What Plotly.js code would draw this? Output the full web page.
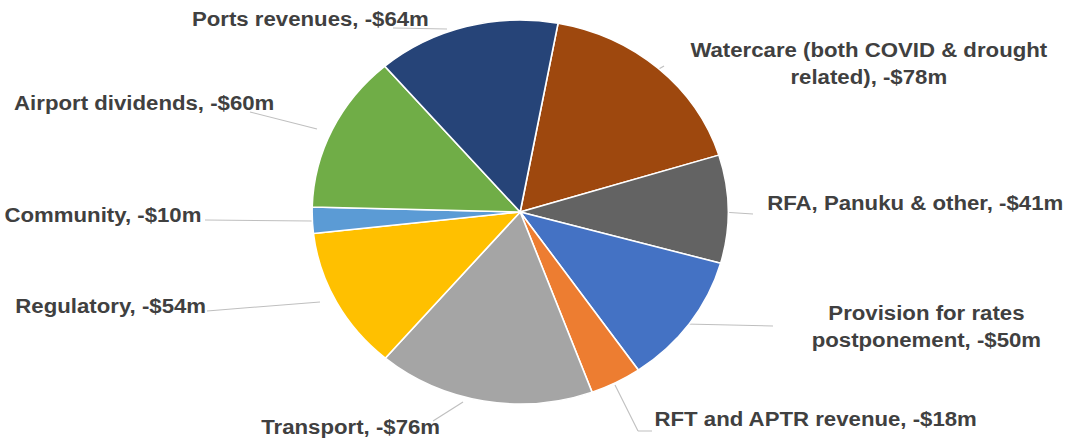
<!DOCTYPE html>
<html>
<head>
<meta charset="utf-8">
<script src="https://cdn.plot.ly/plotly-3.0.1.min.js"></script>
<style>
  html, body { margin: 0; padding: 0; background: #ffffff; overflow: hidden; }
  #chart { width: 1005px; height: 441px; transform: scaleX(1.0836); transform-origin: 0 0; }
</style>
</head>
<body>
<div id="chart"></div>
<script>
// Data (clockwise from 12 o'clock)
var categories = [
  "Watercare (both COVID & drought related)",
  "RFA, Panuku & other",
  "Provision for rates postponement",
  "RFT and APTR revenue",
  "Transport",
  "Regulatory",
  "Community",
  "Airport dividends",
  "Ports revenues"
];
var values = [78, 41, 50, 18, 76, 54, 10, 60, 64];
var labelTexts = [
  "Watercare (both COVID & drought<br>related), -$78m",
  "RFA, Panuku & other, -$41m",
  "Provision for rates<br>postponement, -$50m",
  "RFT and APTR revenue, -$18m",
  "Transport, -$76m",
  "Regulatory, -$54m",
  "Community, -$10m",
  "Airport dividends, -$60m",
  "Ports revenues, -$64m"
];
var colors = ["#9E480E", "#636363", "#4472C4", "#ED7D31", "#A5A5A5", "#FFC000", "#5B9BD5", "#70AD47", "#264478"];

// layout helpers (pixel positions in the 1089x441 picture -> paper fractions)
function px(X) { return X / 1089; }
function py(Y) { return 1 - Y / 441; }

// label placement: [x, y, xanchor, align]
var labelPos = [
  [869, 63, "center", "center"],
  [765, 203, "left", "left"],
  [927, 326, "center", "center"],
  [652, 418, "left", "left"],
  [350, 426, "center", "center"],
  [208, 305, "right", "right"],
  [204, 214, "right", "right"],
  [12, 103, "left", "left"],
  [431, 19, "right", "right"]
];
// leader lines: [x0, y0, x1, y1, (x2, y2)]
var leaders = [
  [657, 70, 664, 66],
  [722, 212, 753, 214],
  [685, 324, 773, 326],
  [615, 385, 638, 431, 652, 431],
  [433, 421, 463, 402],
  [207, 311, 320, 302],
  [205, 220, 312, 221],
  [250, 112, 317, 129],
  [393, 28, 447, 29]
];

var annotations = labelTexts.map(function (t, i) {
  var p = labelPos[i];
  return {
    text: t, xref: "paper", yref: "paper",
    x: px(p[0]), y: py(p[1]), xanchor: p[2], yanchor: "middle", align: p[3],
    showarrow: false,
    font: { family: "Liberation Sans, Arial, sans-serif", size: 20.5, color: "#404040", weight: "bold" }
  };
});

var shapes = [];
leaders.forEach(function (l) {
  for (var k = 0; k + 3 < l.length; k += 2) {
    shapes.push({
      type: "line", xref: "paper", yref: "paper", layer: "below",
      x0: px(l[k]), y0: py(l[k + 1]), x1: px(l[k + 2]), y1: py(l[k + 3]),
      line: { color: "#BFBFBF", width: 1 }
    });
  }
});

var trace = {
  type: "pie",
  labels: categories,
  values: values,
  sort: false,
  direction: "clockwise",
  rotation: 10.5,
  textinfo: "none",
  hoverinfo: "label+value",
  marker: { colors: colors, line: { color: "#ffffff", width: 1.5 } },
  domain: { x: [0.2866, 0.6687], y: [37 / 441, 421 / 441] },
  showlegend: false
};

var layout = {
  width: 1005, height: 441,
  margin: { l: 0, r: 0, t: 0, b: 0 },
  paper_bgcolor: "#ffffff",
  showlegend: false,
  annotations: annotations,
  shapes: shapes
};

Plotly.newPlot("chart", [trace], layout, { staticPlot: true, displayModeBar: false });
</script>
</body>
</html>
